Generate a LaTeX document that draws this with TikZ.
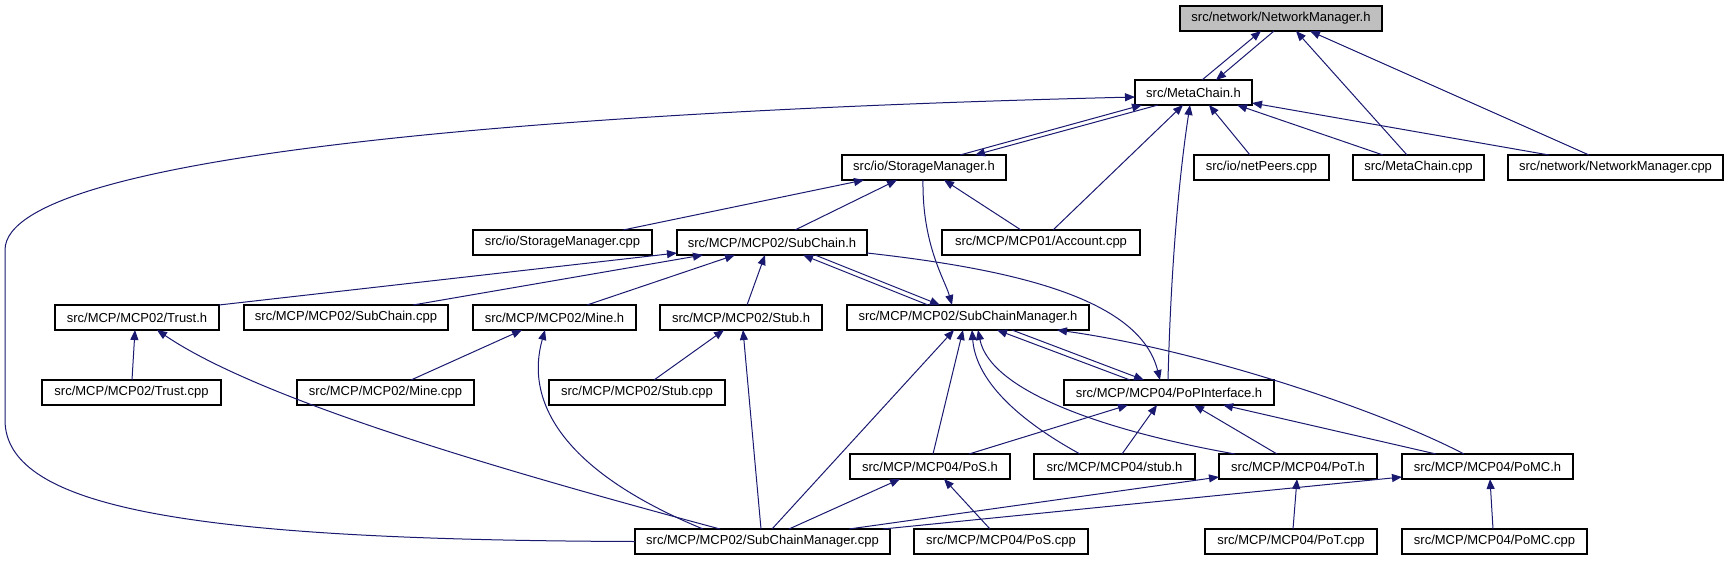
\documentclass[tikz,border=0pt]{standalone}
\usepackage{fontspec}
\setmainfont{Liberation Sans}
\usetikzlibrary{arrows.meta}
\definecolor{edgec}{RGB}{25,25,112}
\definecolor{rootfill}{RGB}{191,191,191}
\begin{document}
\begin{tikzpicture}[x=1pt,y=-1pt,
  box/.style={draw=black, fill=white, line width=1.1pt, minimum height=25pt, inner sep=0pt, outer sep=0pt, anchor=north west, font=\fontsize{13}{15}\selectfont},
  edge/.style={draw=edgec, line width=1pt, -{Triangle[length=10pt,width=8pt]}}]
\useasboundingbox (0,0) rectangle (1729,560);
% nodes
\node[box, fill=rootfill, minimum width=202pt] (NMh) at (1180,6) {src/network/NetworkManager.h};
\node[box, minimum width=117pt] (MCh) at (1135,80) {src/MetaChain.h};
\node[box, minimum width=164pt] (SMh) at (842,155) {src/io/StorageManager.h};
\node[box, minimum width=135pt] (netPeers) at (1194,155) {src/io/netPeers.cpp};
\node[box, minimum width=131pt] (MCcpp) at (1353,155) {src/MetaChain.cpp};
\node[box, minimum width=215pt] (NMcpp) at (1508,155) {src/network/NetworkManager.cpp};
\node[box, minimum width=179pt] (SMcpp) at (473,230) {src/io/StorageManager.cpp};
\node[box, minimum width=190pt] (SCh) at (677,230) {src/MCP/MCP02/SubChain.h};
\node[box, minimum width=198pt] (Account) at (942,230) {src/MCP/MCP01/Account.cpp};
\node[box, minimum width=164pt] (Trusth) at (55,305) {src/MCP/MCP02/Trust.h};
\node[box, minimum width=204pt] (SCcpp) at (244,305) {src/MCP/MCP02/SubChain.cpp};
\node[box, minimum width=163pt] (Mineh) at (473,305) {src/MCP/MCP02/Mine.h};
\node[box, minimum width=162pt] (Stubh) at (660,305) {src/MCP/MCP02/Stub.h};
\node[box, minimum width=242pt] (SCMh) at (847,305) {src/MCP/MCP02/SubChainManager.h};
\node[box, minimum width=179pt] (Trustcpp) at (42,380) {src/MCP/MCP02/Trust.cpp};
\node[box, minimum width=177pt] (Minecpp) at (297,380) {src/MCP/MCP02/Mine.cpp};
\node[box, minimum width=176pt] (Stubcpp) at (549,380) {src/MCP/MCP02/Stub.cpp};
\node[box, minimum width=210pt] (PoPI) at (1064,380) {src/MCP/MCP04/PoPInterface.h};
\node[box, minimum width=160pt] (PoSh) at (850,454) {src/MCP/MCP04/PoS.h};
\node[box, minimum width=161pt] (stubh) at (1034,454) {src/MCP/MCP04/stub.h};
\node[box, minimum width=158pt] (PoTh) at (1219,454) {src/MCP/MCP04/PoT.h};
\node[box, minimum width=171pt] (PoMCh) at (1402,454) {src/MCP/MCP04/PoMC.h};
\node[box, minimum width=255pt] (SCMcpp) at (635,529) {src/MCP/MCP02/SubChainManager.cpp};
\node[box, minimum width=174pt] (PoScpp) at (914,529) {src/MCP/MCP04/PoS.cpp};
\node[box, minimum width=172pt] (PoTcpp) at (1205,529) {src/MCP/MCP04/PoT.cpp};
\node[box, minimum width=185pt] (PoMCcpp) at (1402,529) {src/MCP/MCP04/PoMC.cpp};
% straight edges: top of includer -> bottom of included
\foreach \a/\oa/\b/\ob in {MCh/67/NMh/81, MCcpp/54/NMh/116, NMcpp/81/NMh/130,
  SMh/118/MCh/7, Account/111/MCh/48, netPeers/56/MCh/74, MCcpp/30/MCh/102,
  SMcpp/150/SMh/22, SCh/118/SMh/55, Account/79/SMh/102,
  SCcpp/169/SCh/26, Mineh/114/SCh/58, Stubh/87/SCh/88, SCMh/81/SCh/126,
  PoPI/66/SCMh/150, SCMcpp/137/SCMh/107, PoSh/83/SCMh/116,
  PoSh/119/PoPI/64, stubh/88/PoPI/93, PoTh/58/PoPI/130, PoMCh/34/PoPI/159,
  SCMcpp/126/Stubh/83, SCMcpp/154/PoSh/50,
  Trustcpp/90/Trusth/80, Minecpp/114/Mineh/49, Stubcpp/105/Stubh/64,
  PoScpp/76/PoSh/94, PoTcpp/88/PoTh/78, PoMCcpp/91/PoMCh/88}
  \draw[edge] ([xshift=\oa pt]\a.north west) -- ([xshift=\ob pt]\b.south west);
% reverse edges of the cycles
\foreach \a/\oa/\b/\ob in {NMh/94/MCh/81, MCh/23/SMh/133, SCh/138/SCMh/93, SCMh/165/PoPI/80}
  \draw[edge] ([xshift=\oa pt]\a.south west) -- ([xshift=\ob pt]\b.north west);
% special edges
\draw[edge] (SCMcpp.west) .. controls (200,540) and (5,510) .. (5,420) -- (5,250)
  .. controls (5,150) and (600,110) .. ([yshift=-17pt]MCh.north west);
\draw[edge] ([xshift=104pt]PoPI.north west) .. controls (1171,260) and (1180,170) .. ([xshift=55pt]MCh.south west);
\draw[edge] ([xshift=41pt]NMcpp.north west) -- ([yshift=2pt]MCh.south east);
\draw[edge] ([xshift=81pt]SMh.south west) .. controls (922,245) and (945,280) .. ([xshift=105pt]SCMh.north west);
\draw[edge] (Trusth.north east) -- ([yshift=2pt]SCh.south west);
\draw[edge] ([yshift=2pt]SCh.south east) .. controls (1020,270) and (1140,300) .. ([xshift=96pt]PoPI.north west);
\draw[edge] ([xshift=62pt]PoMCh.north west) .. controls (1380,410) and (1200,350) .. ([xshift=210pt]SCMh.south west);
\draw[edge] ([xshift=46pt]stubh.north west) .. controls (1000,410) and (975,370) .. ([xshift=125pt]SCMh.south west);
\draw[edge] ([xshift=16pt]PoTh.north west) .. controls (1100,430) and (990,390) .. ([xshift=131pt]SCMh.south west);
\draw[edge] ([xshift=85pt]SCMcpp.north west) .. controls (500,470) and (260,400) .. ([xshift=102pt]Trusth.south west);
\draw[edge] ([xshift=68pt]SCMcpp.north west) .. controls (560,470) and (525,400) .. ([xshift=72pt]Mineh.south west);
\draw[edge] ([xshift=214pt]SCMcpp.north west) -- ([yshift=2pt]PoTh.south west);
\draw[edge] ([xshift=248pt]SCMcpp.north west) -- ([yshift=2pt]PoMCh.south west);
\end{tikzpicture}
\end{document}
